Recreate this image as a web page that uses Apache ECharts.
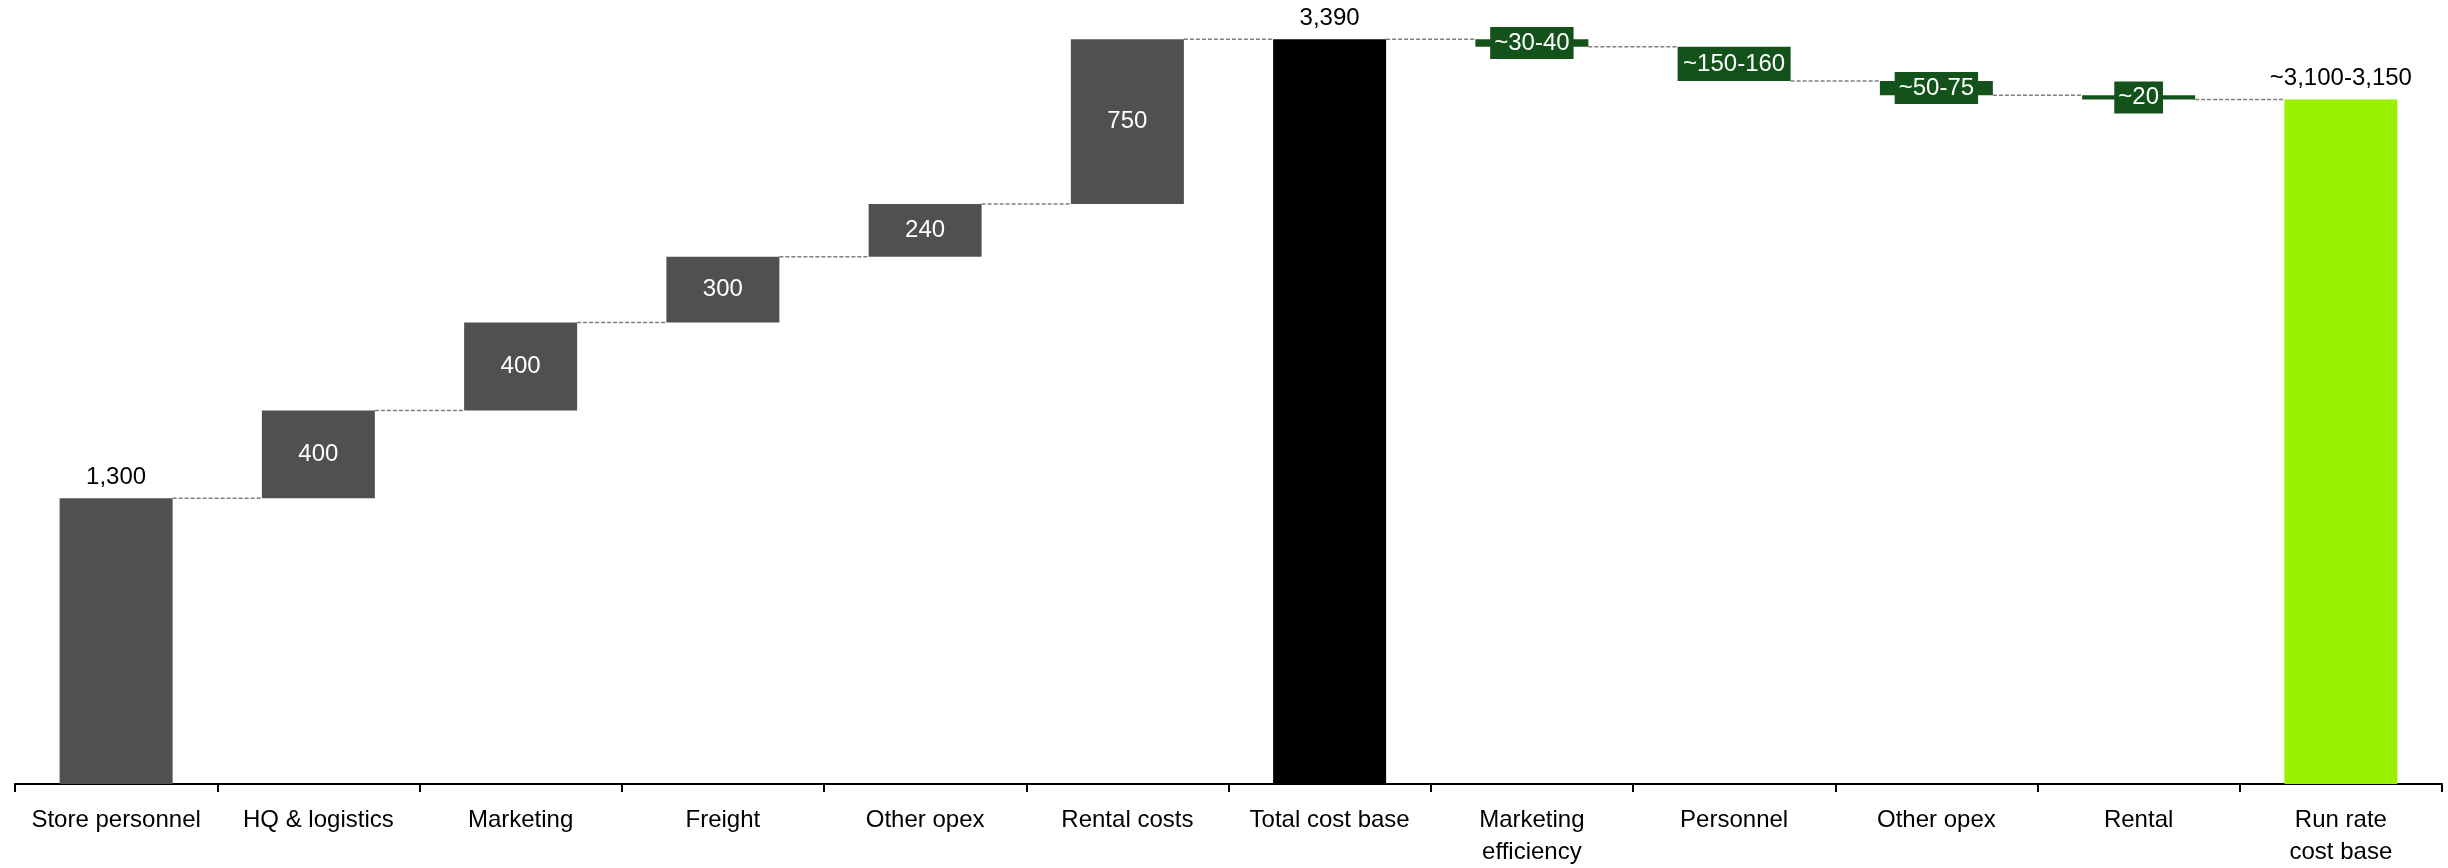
<!DOCTYPE html>
<html>
<head>
<meta charset="utf-8">
<title>Cost base bridge</title>
<script src="https://cdn.jsdelivr.net/npm/echarts@6/dist/echarts.min.js"></script>
<style>
  html, body { margin: 0; padding: 0; background: #fff; }
  #chart { width: 2448px; height: 868px; }
</style>
</head>
<body>
<div id="chart"></div>
<script>
// Categories along the bridge
const categories = [
  'Store personnel', 'HQ & logistics', 'Marketing', 'Freight', 'Other opex', 'Rental costs',
  'Total cost base', 'Marketing\nefficiency', 'Personnel', 'Other opex', 'Rental', 'Run rate\ncost base'
];

// Cost components building up to the total
const buildUp = [1300, 400, 400, 300, 240, 750];
const totalCost = 3390;

// Savings levers (estimated size of each step) and their range labels
const savings = [35, 155, 65, 20];
const savingsLabels = ['~30-40', '~150-160', '~50-75', '~20'];

// Resulting run-rate cost base
const runRate = 3115;
const runRateLabel = '~3,100-3,150';

const FONT = 'Liberation Sans, Arial, sans-serif';
const GREY = '#505050';
const DARK_GREEN = '#13521a';
const LIME = '#99f000';
const BAR_W = 113;

const n = categories.length;
const blank = () => new Array(n).fill('-');

// Invisible offsets so each step floats at the running level
const base = blank();
const greySeries = blank();
const totalSeries = blank();
const greenSeries = blank();
const limeSeries = blank();
const levels = []; // running level after each category, used by connectors

let running = 0;
buildUp.forEach((v, i) => {
  base[i] = running;
  greySeries[i] = v;
  running += v;
  levels.push(running);
});
totalSeries[buildUp.length] = totalCost;
levels.push(totalCost);
running = totalCost;
savings.forEach((v, k) => {
  const i = buildUp.length + 1 + k;
  running -= v;
  base[i] = running;
  greenSeries[i] = v;
  levels.push(running);
});
limeSeries[n - 1] = runRate;

// Connector segments: from the right edge of bar i to the left edge of bar i+1
const connectorData = [];
for (let i = 0; i < n - 1; i++) connectorData.push([i, levels[i]]);

const fmt = v => v.toLocaleString('en-US');

const chart = echarts.init(document.getElementById('chart'), null, { renderer: 'canvas' });

chart.setOption({
  animation: false,
  backgroundColor: '#fff',
  textStyle: { fontFamily: FONT },
  grid: { left: 15, right: 6, top: 15, bottom: 81, containLabel: false },
  xAxis: {
    type: 'category',
    data: categories,
    axisLine: { lineStyle: { color: '#000', width: 2 } },
    axisTick: { show: true, length: 8, lineStyle: { color: '#000', width: 2 } },
    axisLabel: {
      interval: 0, color: '#000', fontSize: 24, fontFamily: FONT,
      margin: 20, lineHeight: 32
    },
    splitLine: { show: false }
  },
  yAxis: {
    type: 'value', min: 0, max: 3500, show: false,
    splitLine: { show: false }
  },
  series: [
    {
      name: 'base', type: 'bar', stack: 'bridge', barWidth: BAR_W,
      itemStyle: { color: 'transparent' },
      emphasis: { disabled: true },
      data: base
    },
    {
      name: 'build-up', type: 'bar', stack: 'bridge', barWidth: BAR_W,
      itemStyle: { color: GREY },
      label: {
        show: true, fontSize: 24, fontFamily: FONT,
        position: 'inside',
        formatter: p => fmt(p.value),
        color: '#fff'
      },
      data: greySeries.map((v, i) => i === 0 && v !== '-'
        ? { value: v, label: { position: 'top', color: '#000', distance: 9 } }
        : v)
    },
    {
      name: 'total', type: 'bar', stack: 'bridge', barWidth: BAR_W,
      itemStyle: { color: '#000' },
      label: {
        show: true, position: 'top', distance: 9, color: '#000',
        fontSize: 24, fontFamily: FONT, formatter: p => fmt(p.value)
      },
      data: totalSeries
    },
    {
      name: 'savings', type: 'bar', stack: 'bridge', barWidth: BAR_W,
      itemStyle: { color: DARK_GREEN },
      label: {
        show: true, position: 'inside', color: '#fff',
        fontSize: 24, fontFamily: FONT, lineHeight: 24,
        backgroundColor: DARK_GREEN, padding: [4, 4],
        formatter: p => savingsLabels[p.dataIndex - buildUp.length - 1]
      },
      data: greenSeries
    },
    {
      name: 'run rate', type: 'bar', stack: 'bridge', barWidth: BAR_W,
      itemStyle: { color: LIME },
      label: {
        show: true, position: 'top', distance: 9, color: '#000',
        fontSize: 24, fontFamily: FONT, formatter: () => runRateLabel
      },
      data: limeSeries
    },
    {
      name: 'connectors', type: 'custom', z: 1,
      silent: true,
      renderItem: (params, api) => {
        const idx = api.value(0);
        const lvl = api.value(1);
        const p0 = api.coord([idx, lvl]);
        const p1 = api.coord([idx + 1, lvl]);
        const half = BAR_W / 2;
        return {
          type: 'line',
          shape: { x1: p0[0] + half, y1: p0[1], x2: p1[0] - half, y2: p1[1] },
          style: { stroke: '#7f7f7f', lineWidth: 1.5, lineDash: [4, 2] }
        };
      },
      data: connectorData
    }
  ]
});
</script>
</body>
</html>
